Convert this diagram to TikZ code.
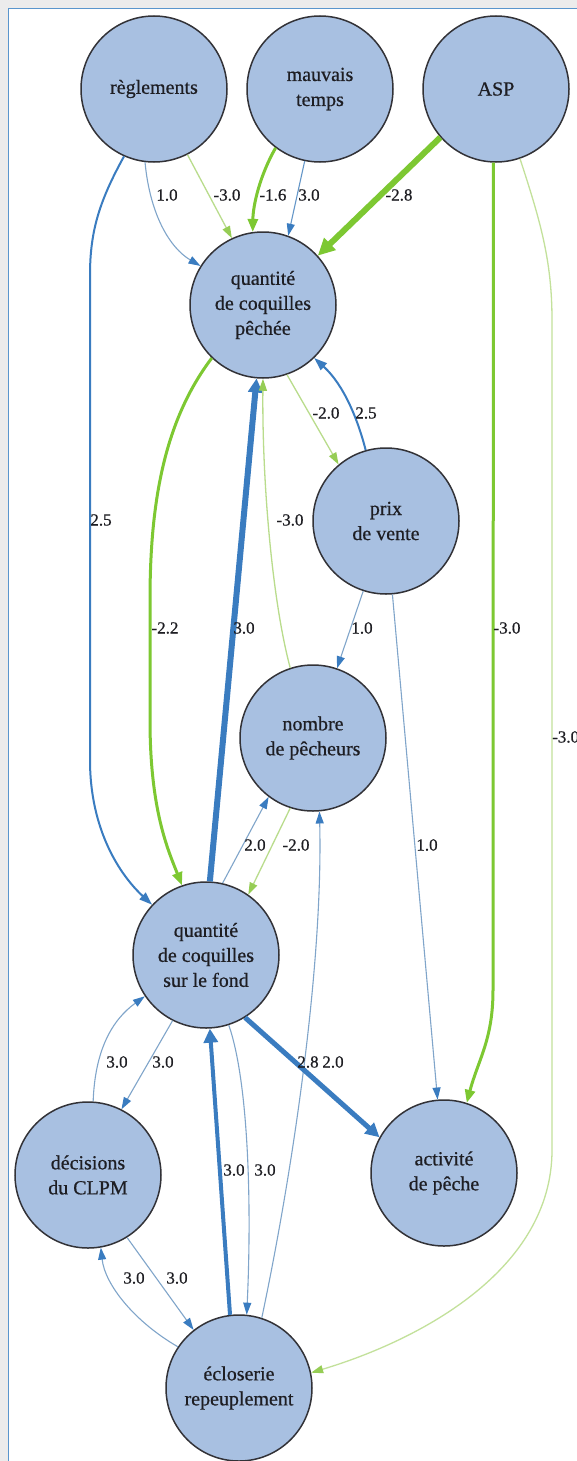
\documentclass[tikz,border=0pt]{standalone}
\usepackage{fontspec}
\setmainfont{Liberation Serif}
\newfontfamily\nfont[FakeBold=0.6]{Liberation Serif}
\usetikzlibrary{arrows.meta}
\definecolor{ndfill}{RGB}{168,192,225}
\definecolor{ndborder}{RGB}{50,50,55}
\definecolor{bstrong}{RGB}{58,124,192}
\definecolor{bmid}{RGB}{100,150,200}
\definecolor{bthin}{RGB}{128,165,202}
\definecolor{gstrong}{RGB}{125,200,50}
\definecolor{glight}{RGB}{185,220,140}
\definecolor{glight2}{RGB}{195,225,155}
\definecolor{gmid}{RGB}{150,205,85}
\definecolor{framecol}{RGB}{90,150,205}
\definecolor{bandgray}{RGB}{236,236,236}
\definecolor{txt}{RGB}{30,30,35}
\tikzset{
  nd/.style={circle, draw=ndborder, line width=1.5pt, fill=ndfill, minimum size=146pt,
    inner sep=0pt, align=center, font=\nfont\fontsize{20}{25}\selectfont, text=txt},
  lbl/.style={font=\nfont\fontsize{17}{20}\selectfont, text=txt, inner sep=0pt},
  bluethin/.style={draw=bthin, line width=1.1pt, -{Triangle[length=12pt,width=8pt,color=bstrong]}},
  bluemed/.style={draw=bstrong, line width=2pt, -{Triangle[length=13pt,width=9pt]}},
  bluethick/.style={draw=bstrong, line width=6pt, -{Triangle[length=14pt,width=14pt]}},
  greenlight/.style={draw=glight, line width=1.3pt, -{Triangle[length=12pt,width=8pt,color=gmid]}},
  greenmed/.style={draw=gstrong, line width=3pt, -{Triangle[length=13pt,width=10pt]}},
  greenthick/.style={draw=gstrong, line width=6pt, -{Triangle[length=17pt,width=16pt]}},
}
\begin{document}
\begin{tikzpicture}[x=1pt,y=-1pt]
\useasboundingbox (0,0) rectangle (577,1461);
\clip (0,0) rectangle (577,1461);
\fill[bandgray] (0,0) rectangle (577,1461);
\draw[framecol, line width=1.5pt, fill=white] (8.5,8.5) rectangle (640,1520);

% nodes
\node[nd] (reg)  at (154,89)   {règlements};
\node[nd] (mau)  at (320,89)   {mauvais\\temps};
\node[nd] (asp)  at (496,89)   {ASP};
\node[nd] (pec)  at (263,305)  {quantité\\de coquilles\\pêchée};
\node[nd] (prix) at (386,521)  {prix\\de vente};
\node[nd] (nom)  at (313,738)  {nombre\\de pêcheurs};
\node[nd] (fond) at (206,955)  {quantité\\de coquilles\\sur le fond};
\node[nd] (dec)  at (88,1175)  {décisions\\du CLPM};
\node[nd] (act)  at (444,1173) {activité\\de pêche};
\node[nd] (ecl)  at (239,1388) {écloserie\\repeuplement};

% edges
\draw[bluemed] (reg.-114) .. controls (100,200) and (90,230) .. (90,275) -- (90,760) .. controls (90,830) and (120,875) .. (fond.137);
\draw[bluethin] (reg.-97) .. controls (150,215) and (170,248) .. (pec.148);
\draw[greenlight] (reg.-63) -- (pec.115);
\draw[greenmed] (mau.-127) .. controls (260,175) and (253,205) .. (pec.98);
\draw[bluethin, draw=bmid] (mau.-102) -- (pec.70);
\draw[greenthick] (asp.-139) -- (pec.42);
\draw[greenmed] (asp.-92) -- (493,990) .. controls (493,1040) and (478,1060) .. (act.72);
\draw[greenlight, draw=glight2] (asp.-71) .. controls (540,220) and (552,260) .. (552,320) -- (552,1150) .. controls (552,1270) and (420,1340) .. (ecl.12);
\draw[greenmed] (pec.-134) .. controls (165,420) and (150,500) .. (150,600) -- (150,720) .. controls (150,810) and (168,850) .. (fond.109);
\draw[bluethick] (fond.87) -- (pec.-95);
\draw[greenlight] (nom.108) .. controls (272,600) and (262,480) .. (pec.-90);
\draw[greenlight] (pec.-71) -- (prix.130);
\draw[bluemed] (prix.106) .. controls (358,420) and (344,385) .. (pec.-46);
\draw[bluethin] (prix.-108) -- (nom.71);
\draw[bluethin] (prix.-85) -- (act.95);
\draw[bluethin] (fond.77) -- (nom.-127);
\draw[greenlight] (nom.-108) -- (fond.55);
\draw[bluethin] (ecl.72) .. controls (295,1160) and (323,960) .. (nom.-85);
\draw[bluethick, line width=5pt] (fond.-58) -- (act.151);
\draw[bluethin] (fond.-117) -- (dec.63);
\draw[bluethin] (dec.86) .. controls (95,1050) and (112,1020) .. (fond.-146);
\draw[bluethick, line width=4pt] (ecl.97) -- (fond.-87);
\draw[bluethin] (fond.-72) .. controls (248,1080) and (252,1200) .. (ecl.84);
\draw[bluethin] (dec.-58) -- (ecl.128);
\draw[bluethin] (ecl.146) .. controls (135,1322) and (105,1285) .. (dec.-80);

% labels
\node[lbl] (l1)  at (167,195)  {1.0};
\node[lbl] (l2)  at (227,195)  {-3.0};
\node[lbl] (l3)  at (273,195)  {-1.6};
\node[lbl] (l4)  at (309,195)  {3.0};
\node[lbl] (l5)  at (399,195)  {-2.8};
\node[lbl] (l6)  at (101,520)  {2.5};
\node[lbl] (l7)  at (290,520)  {-3.0};
\node[lbl] (l8)  at (326,413)  {-2.0};
\node[lbl] (l9)  at (366,413)  {2.5};
\node[lbl] (l10) at (165,628)  {-2.2};
\node[lbl] (l11) at (244,628)  {3.0};
\node[lbl] (l12) at (362,628)  {1.0};
\node[lbl] (l13) at (507,628)  {-3.0};
\node[lbl, anchor=west] (l14) at (552,737) {-3.0};
\node[lbl] (l15) at (255,845)  {2.0};
\node[lbl] (l16) at (296,845)  {-2.0};
\node[lbl] (l17) at (427,845)  {1.0};
\node[lbl] (l18) at (117,1062) {3.0};
\node[lbl] (l19) at (163,1062) {3.0};
\node[lbl] (l20) at (308,1062) {2.8};
\node[lbl] (l21) at (333,1062) {2.0};
\node[lbl] (l22) at (234,1170) {3.0};
\node[lbl] (l23) at (265,1170) {3.0};
\node[lbl] (l24) at (134,1278) {3.0};
\node[lbl] (l25) at (177,1278) {3.0};
\end{tikzpicture}
\end{document}
